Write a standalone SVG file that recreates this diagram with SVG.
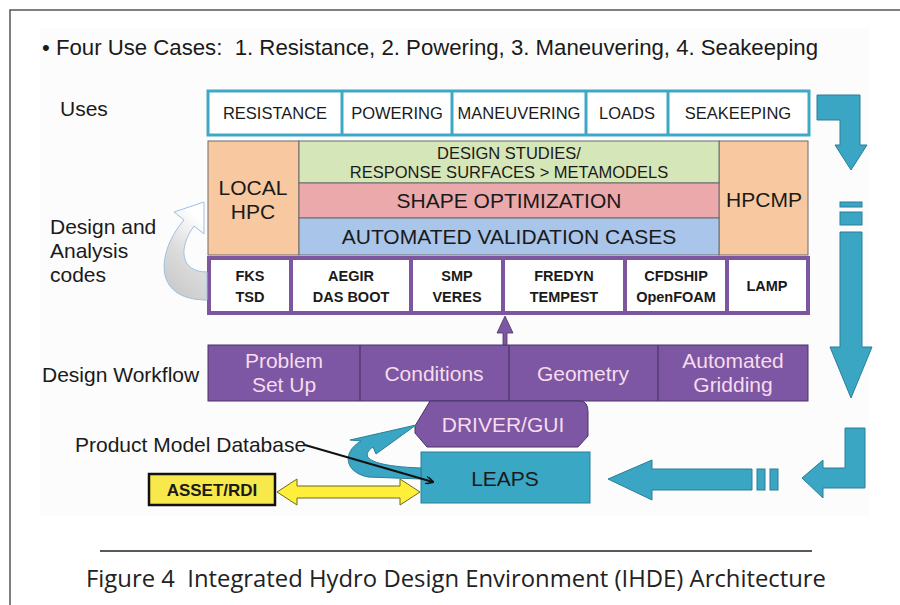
<svg xmlns="http://www.w3.org/2000/svg" width="900" height="605" viewBox="0 0 900 605">
<style>
text{font-family:"Liberation Sans",Arial,sans-serif;fill:#1a1a1a}
.lbl{font-size:21px}
.use{font-size:16.5px;text-anchor:middle}
.code{font-size:14.5px;font-weight:bold;text-anchor:middle}
.mid{text-anchor:middle}
.wf{font-size:21px;fill:#f6dcec;text-anchor:middle}
.teal{fill:#3aa6c3;stroke:#2a7f98;stroke-width:1}
</style>
<defs>
<linearGradient id="gray" x1="0" y1="1" x2="0.4" y2="0">
<stop offset="0" stop-color="#c4c4c4"/>
<stop offset="0.55" stop-color="#dcdcdc"/>
<stop offset="1" stop-color="#ffffff"/>
</linearGradient>
<marker id="ah" viewBox="0 0 10 10" refX="9" refY="5" markerWidth="8" markerHeight="8" orient="auto" markerUnits="userSpaceOnUse">
<path d="M0,0 L10,5 L0,10" fill="none" stroke="#111" stroke-width="2"/>
</marker>
</defs>
<rect width="900" height="605" fill="#fff"/>
<path d="M10,605 V10 H900" fill="none" stroke="#555" stroke-width="1.5"/>
<rect x="40" y="28" width="830" height="488" fill="#fcfcfc"/>

<g id="title"><text x="42" y="55" xml:space="preserve" style="font-size:22px" textLength="776" lengthAdjust="spacingAndGlyphs">• Four Use Cases:  1. Resistance, 2. Powering, 3. Maneuvering, 4. Seakeeping</text></g>

<g id="side-labels">
<text x="60" y="116" class="lbl">Uses</text>
<text x="50" y="234" class="lbl">Design and</text>
<text x="50" y="258" class="lbl">Analysis</text>
<text x="50" y="282" class="lbl">codes</text>
<text x="42" y="382" class="lbl">Design Workflow</text>
<text x="75" y="452" class="lbl">Product Model Database</text>
</g>

<g id="uses">
<rect x="208" y="91" width="601" height="44" fill="#fff" stroke="#3ea8c6" stroke-width="3"/>
<path d="M342,91 V135 M452,91 V135 M586,91 V135 M668,91 V135" stroke="#3ea8c6" stroke-width="3"/>
<text x="275" y="119" class="use">RESISTANCE</text>
<text x="397" y="119" class="use">POWERING</text>
<text x="519" y="119" class="use">MANEUVERING</text>
<text x="627" y="119" class="use">LOADS</text>
<text x="738" y="119" class="use">SEAKEEPING</text>
</g>

<g id="local-hpc">
<rect x="208" y="141" width="91" height="114" fill="#f8c8a0" stroke="#6b6b6b" stroke-width="1"/>
<text x="253" y="195" class="lbl mid">LOCAL</text>
<text x="253" y="219" class="lbl mid">HPC</text>
</g>
<g id="hpcmp">
<rect x="719" y="141" width="89" height="114" fill="#f8c8a0" stroke="#6b6b6b" stroke-width="1"/>
<text x="764" y="207" class="lbl mid">HPCMP</text>
</g>
<g id="design-studies">
<rect x="299" y="141" width="420" height="42" fill="#d5e6b8" stroke="#6b6b6b" stroke-width="1"/>
<text x="509" y="159" class="mid" style="font-size:16.5px">DESIGN STUDIES/</text>
<text x="509" y="178" class="mid" style="font-size:16.5px">RESPONSE SURFACES &gt; METAMODELS</text>
</g>
<g id="shape-opt">
<rect x="299" y="183" width="420" height="35" fill="#eba9ab" stroke="#6b6b6b" stroke-width="1"/>
<text x="509" y="208" class="lbl mid">SHAPE OPTIMIZATION</text>
</g>
<g id="validation">
<rect x="299" y="218" width="420" height="37" fill="#a9c5e9" stroke="#6b6b6b" stroke-width="1"/>
<text x="509" y="244" class="lbl mid">AUTOMATED VALIDATION CASES</text>
</g>

<g id="codes">
<rect x="209" y="258" width="599" height="55" fill="#fff" stroke="#7d56a0" stroke-width="4"/>
<path d="M291,258 V313 M411,258 V313 M503,258 V313 M625,258 V313 M727,258 V313" stroke="#7d56a0" stroke-width="4"/>
<text x="250" y="281" class="code">FKS</text><text x="250" y="302" class="code">TSD</text>
<text x="351" y="281" class="code">AEGIR</text><text x="351" y="302" class="code">DAS BOOT</text>
<text x="457" y="281" class="code">SMP</text><text x="457" y="302" class="code">VERES</text>
<text x="564" y="281" class="code">FREDYN</text><text x="564" y="302" class="code">TEMPEST</text>
<text x="676" y="281" class="code">CFDSHIP</text><text x="676" y="302" class="code">OpenFOAM</text>
<text x="767" y="291" class="code">LAMP</text>
</g>

<g id="workflow">
<rect x="208" y="345" width="600" height="56" fill="#7d57a3" stroke="#4a3466" stroke-width="1"/>
<path d="M360,345 V401 M509,345 V401 M658,345 V401" stroke="#4a3466" stroke-width="1.2"/>
<text x="284" y="368" class="wf">Problem</text><text x="284" y="392" class="wf">Set Up</text>
<text x="434" y="381" class="wf">Conditions</text>
<text x="583" y="381" class="wf">Geometry</text>
<text x="733" y="368" class="wf">Automated</text><text x="733" y="392" class="wf">Gridding</text>
</g>

<g id="driver-gui">
<path d="M430,401 H580 Q588,401 588,412 V436 L578,447 H427 L415,433 V426 Z" fill="#7d57a3" stroke="#4a3466" stroke-width="1"/>
<text x="503" y="432" class="wf">DRIVER/GUI</text>
</g>

<g id="leaps">
<rect x="421" y="452" width="169" height="51" fill="#3aa7c4" stroke="#2a7f98" stroke-width="1"/>
<text x="505" y="486" class="lbl mid">LEAPS</text>
</g>

<g id="asset-rdi">
<rect x="149" y="474" width="126" height="31" fill="#f7e84b" stroke="#111" stroke-width="2.5"/>
<text x="212" y="496" class="mid" style="font-size:17px;font-weight:bold">ASSET/RDI</text>
</g>

<g id="connectors">
<path d="M507,345 V333 H513 L505,316 L497,333 H503 V345 Z" fill="#7d57a3" stroke="#4a3466" stroke-width="0.8"/>
<path d="M207,300 C150,300 158,250 184,220 L174,212 L204,202 L204,234 L194,226 C178,248 180,272 207,272 Z" fill="url(#gray)" stroke="#9dc0e3" stroke-width="1"/>
<path d="M421,479 L368,477 C344,472 342,452 361,441 L350,440 L416,425 L376,454 L373,447 C360,456 366,466 421,468 Z" class="teal"/>
<path d="M305,445 L433,482" stroke="#111" stroke-width="2" marker-end="url(#ah)"/>
<path d="M277,492 L297,479 V486 H400 V479 L420,492 L400,505 V498 H297 V505 Z" fill="#ffef3a" stroke="#6a6a20" stroke-width="1"/>
<path d="M817,95 H860 V145 H867 L851,170 L835,145 H840 V120 H817 Z" class="teal"/>
<rect x="840" y="202" width="22" height="5" class="teal"/>
<rect x="840" y="212" width="22" height="13" class="teal"/>
<path d="M840,232 H862 V347 H872 L851,398 L830,347 H840 Z" class="teal"/>
<path d="M845,428 H865 V488 H823 V498 L802,478 L823,460 V468 H845 Z" class="teal"/>
<path d="M752,469 V490 H652 V500 L608,479 L652,460 V469 Z" class="teal"/>
<rect x="757" y="469" width="8" height="21" class="teal"/>
<rect x="770" y="469" width="8" height="21" class="teal"/>
</g>

<g id="caption">
<path d="M100,551 H812" stroke="#222" stroke-width="1.5"/>
<text x="456" y="587" class="mid" xml:space="preserve" style="font-family:'Open Sans','Liberation Sans',sans-serif;font-size:24px;fill:#222" textLength="740" lengthAdjust="spacingAndGlyphs">Figure 4  Integrated Hydro Design Environment (IHDE) Architecture</text>
</g>
</svg>
